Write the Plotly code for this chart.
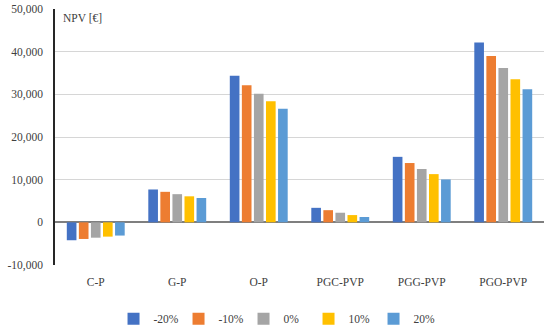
import plotly.graph_objects as go

categories = ["C-P", "G-P", "O-P", "PGC-PVP", "PGG-PVP", "PGO-PVP"]
series_names = ["-20%", "-10%", "0%", "10%", "20%"]
v_m20 = [-4200, 7700, 34350, 3400, 15350, 42150]
v_m10 = [-3900, 7150, 32150, 2850, 13900, 39000]
v_0 = [-3600, 6600, 30150, 2250, 12500, 36200]
v_10 = [-3350, 6100, 28350, 1700, 11300, 33550]
v_20 = [-3100, 5700, 26650, 1250, 10050, 31200]
series_values = [v_m20, v_m10, v_0, v_10, v_20]
colors = ["#4472C4", "#ED7D31", "#A5A5A5", "#FFC000", "#5B9BD5"]
y_ticks = [-10000, 0, 10000, 20000, 30000, 40000, 50000]
y_tick_labels = ["-10,000", "0", "10,000", "20,000", "30,000", "40,000", "50,000"]

FONT = "Liberation Serif, DejaVu Serif, serif"
FS = 11.5
TXT = "#404040"

fig = go.Figure()
for name, vals, c in zip(series_names, series_values, colors):
    fig.add_trace(go.Bar(x=categories, y=vals, name=name, marker_color=c,
                         marker_line_width=0))

fig.update_layout(
    width=550, height=330,
    margin=dict(l=55, r=6, t=9, b=65, autoexpand=False),
    paper_bgcolor="white", plot_bgcolor="white",
    barmode="group", bargap=0.26, bargroupgap=0.2,
    font=dict(family=FONT, size=FS, color=TXT),
    showlegend=True,
    legend=dict(orientation="h", x=0.452, xanchor="center", y=-0.21, yanchor="middle",
                font=dict(family=FONT, size=FS, color=TXT),
                itemwidth=30, entrywidth=20, entrywidthmode="pixels",
                tracegroupgap=0, itemclick=False),
    xaxis=dict(showgrid=False, showline=False, ticks="", ticklabelstandoff=8,
               automargin=False,
               tickfont=dict(family=FONT, size=FS, color=TXT)),
    yaxis=dict(range=[-10000, 50000], tickvals=y_ticks, ticktext=y_tick_labels,
               showgrid=True, gridcolor="#D6D6D6", gridwidth=1,
               zeroline=True, zerolinecolor="#7F7F7F", zerolinewidth=1.5,
               showline=True, linecolor="#262626", linewidth=1.5,
               ticks="", ticklabelstandoff=8, automargin=False,
               tickfont=dict(family=FONT, size=FS, color=TXT)),
    annotations=[dict(text="NPV [€]", x=0, y=1, xref="paper", yref="paper",
                      xanchor="left", yanchor="top", xshift=6, yshift=-1, showarrow=False,
                      font=dict(family=FONT, size=FS, color=TXT))],
)

fig.write_html("out.html", config={"displayModeBar": False},
               post_script="document.body.style.margin='0';document.body.style.overflow='hidden';")
